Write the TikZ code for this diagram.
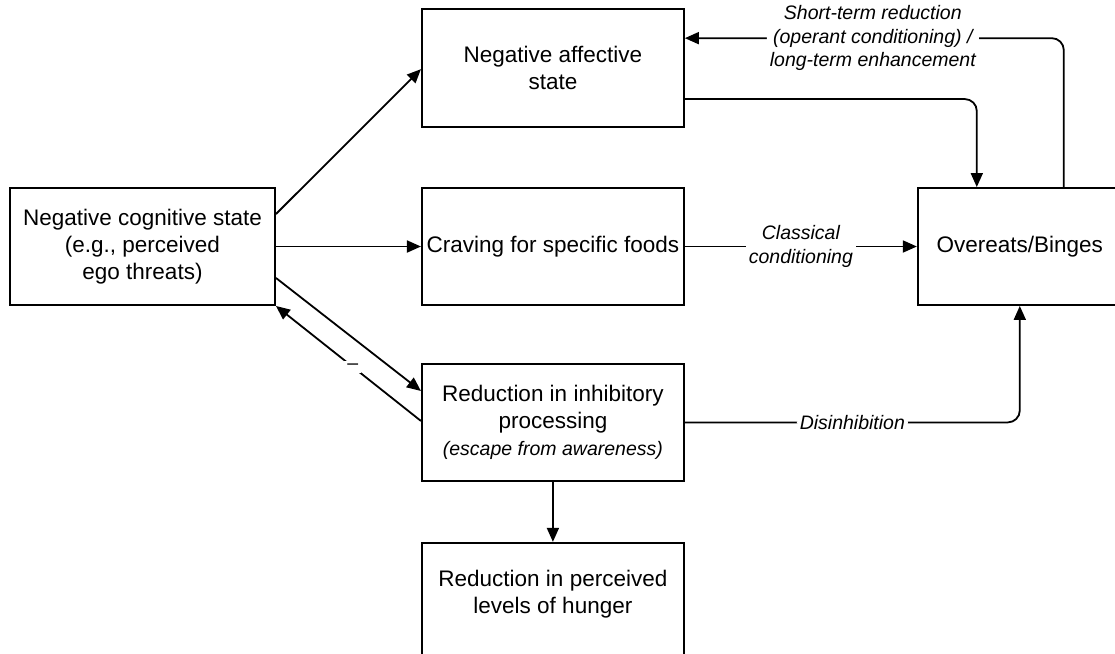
\documentclass[tikz,border=0pt]{standalone}
\usepackage{fontspec}
\setmainfont{Liberation Sans}
\usetikzlibrary{positioning,arrows.meta}

\begin{document}
\begin{tikzpicture}[x=1pt,y=-1pt,
    every node/.style={font=\fontsize{22.5}{27}\selectfont},
    box/.style={rectangle,draw,line width=1.9pt,minimum width=262pt,
                minimum height=117pt,inner sep=0pt,align=center},
    lbl/.style={font=\fontsize{19.5}{23.5}\selectfont\itshape,fill=white,
                inner sep=3pt,align=center},
    arr/.style={-{Triangle[length=14pt,width=12pt]},line width=1.8pt},
  ]
  \useasboundingbox (0,0) rectangle (1115,653);

  % Left: the cognitive trigger
  \node[box,minimum width=265pt] (cog) at (142.5,246.5) {%
    Negative cognitive state\\(e.g., perceived\\ego threats)};

  % Middle column
  \node[box,right=145pt of cog] (crave) {Craving for specific foods};
  \node[box,above=59pt of crave,minimum height=118pt] (affect) {%
    Negative affective\\state};
  \node[box,below=57pt of crave] (inhib) {%
    Reduction in inhibitory\\processing\\
    {\fontsize{19.5}{23.5}\selectfont\itshape (escape from awareness)}};
  \node[box,below=60pt of inhib,minimum height=150pt] (hunger) {};
  \node[align=center] (hungertxt) at ([yshift=-52pt]hunger.north) {%
    Reduction in perceived\\levels of hunger};

  % Right: the outcome
  \node[box,right=232pt of crave,minimum width=204pt] (binge) {Overeats/Binges};

  % From the cognitive state
  \draw[arr] ([yshift=-27pt]cog.north east) -- ([yshift=-61pt]affect.north west);
  \draw[arr] (cog) -- (crave);
  \draw[arr] ([yshift=28pt]cog.south east) -- ([yshift=-28pt]inhib.north west);
  \draw[arr] ([yshift=-58pt]inhib.north west) --
    node[lbl,font=\fontsize{19.5}{23.5}\selectfont,pos=0.47] {–} (cog.south east);

  % Into the binge
  \draw[arr] (crave) -- node[lbl] {Classical\\conditioning} (binge);
  \draw[arr,rounded corners=12pt] ([yshift=29pt]affect.south east)
    -| ([xshift=-43pt]binge.north);
  \draw[arr,rounded corners=12pt] (inhib) -| node[lbl,pos=0.25] {Disinhibition} (binge);

  % Feedback to affect
  \draw[arr,rounded corners=12pt] ([xshift=44pt]binge.north)
    |- node[lbl,pos=0.752] {Short-term reduction\\(operant conditioning) /\\
    long-term enhancement} ([yshift=-30pt]affect.north east);

  \draw[arr] (inhib) -- (hunger);
\end{tikzpicture}
\end{document}
